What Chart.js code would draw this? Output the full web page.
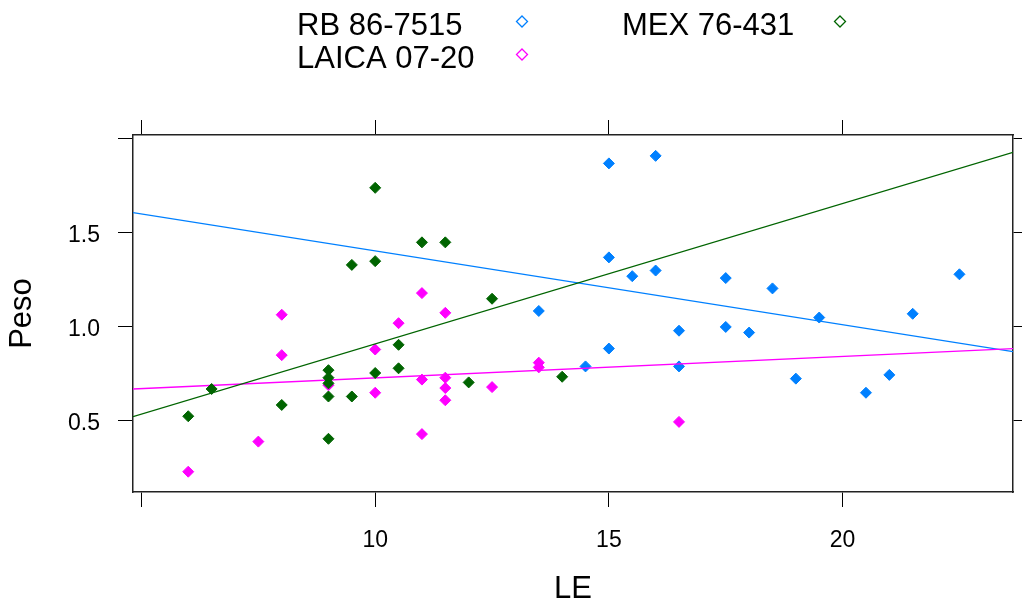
<!DOCTYPE html>
<html>
<head>
<meta charset="utf-8">
<script src="https://cdn.jsdelivr.net/npm/chart.js@4"></script>
<style>
  html, body { margin: 0; padding: 0; background: #fff; }
  #wrap { width: 1022px; height: 608px; }
</style>
</head>
<body>
<div id="wrap"><canvas id="chart" width="1022" height="608"></canvas></div>
<script>
// Peso vs LE, three varieties with linear fits

const seriesNames = ['RB 86-7515', 'LAICA 07-20', 'MEX 76-431'];
const seriesColors = ['#0080ff', '#ff00ff', '#006400'];

const rbX = [13.5, 14.5, 15, 15, 15, 15.5, 16, 16, 16.5, 16.5, 17.5, 17.5, 18, 18.5, 19, 19.5, 20.5, 21, 21.5, 22.5];
const rbY = [1.085, 0.79, 1.87, 1.37, 0.885, 1.27, 1.91, 1.30, 0.98, 0.79, 1.26, 1.00, 0.97, 1.205, 0.725, 1.05, 0.65, 0.745, 1.07, 1.28];

const laicaX = [6, 7.5, 8, 8, 9, 10, 10, 10.5, 11, 11, 11, 11.5, 11.5, 11.5, 11.5, 12.5, 13.5, 13.5, 16.5];
const laicaY = [0.23, 0.39, 1.065, 0.85, 0.69, 0.88, 0.65, 1.02, 1.18, 0.72, 0.43, 1.075, 0.73, 0.675, 0.61, 0.68, 0.81, 0.785, 0.495];

const mexX = [6, 6.5, 8, 9, 9, 9, 9, 9, 9.5, 9.5, 10, 10, 10, 10.5, 10.5, 11, 11.5, 12, 12.5, 14];
const mexY = [0.525, 0.67, 0.585, 0.77, 0.73, 0.70, 0.63, 0.405, 1.33, 0.63, 1.74, 1.35, 0.755, 0.905, 0.78, 1.45, 1.45, 0.705, 1.15, 0.735];

// fitted lines, value at left and right edge of the panel
const fitX = [4.818, 23.646];
const rbFit = [1.608, 0.869];
const laicaFit = [0.670, 0.885];
const mexFit = [0.523, 1.929];

const xTicks = [5, 10, 15, 20];
const yTicks = [0.5, 1.0, 1.5, 2.0];
const xRange = [4.818, 23.646];
const yRange = [0.122, 2.021];

const FONT = "'Liberation Sans', Arial, sans-serif";

function pts(xs, ys) {
    return xs.map((x, i) => ({ x: x, y: ys[i] }));
}

function pointSet(i, xs, ys) {
    return {
        type: 'scatter',
        label: seriesNames[i],
        data: pts(xs, ys),
        pointStyle: 'rectRot',
        pointRadius: 5.5,
        pointBorderWidth: 1,
        backgroundColor: seriesColors[i],
        borderColor: seriesColors[i]
    };
}

function fitSet(i, ys) {
    return {
        type: 'line',
        label: seriesNames[i] + ' fit',
        data: pts(fitX, ys),
        borderColor: seriesColors[i],
        borderWidth: 1.3,
        pointRadius: 0,
        fill: false,
        tension: 0
    };
}

// lattice style key: text first, open diamond after it
const keyPlugin = {
    id: 'latticeKey',
    afterDraw(chart) {
        const ctx = chart.ctx;
        const cols = [
            { text: 297, sym: 522 },
            { text: 297, sym: 522 },
            { text: 622, sym: 840 }
        ];
        const rows = [35, 68, 35];
        ctx.save();
        ctx.font = '31px ' + FONT;
        ctx.fillStyle = '#000';
        ctx.textBaseline = 'alphabetic';
        ctx.textAlign = 'left';
        seriesNames.forEach((name, i) => {
            ctx.fillText(name, cols[i].text, rows[i]);
            const cx = cols[i].sym, cy = rows[i] - 13.5, r = 5.5;
            ctx.beginPath();
            ctx.moveTo(cx, cy - r);
            ctx.lineTo(cx + r, cy);
            ctx.lineTo(cx, cy + r);
            ctx.lineTo(cx - r, cy);
            ctx.closePath();
            ctx.strokeStyle = seriesColors[i];
            ctx.lineWidth = 1.3;
            ctx.stroke();
        });
        ctx.restore();
    }
};

function setTicks(list) {
    return scale => { scale.ticks = list.map(v => ({ value: v })); };
}

const gridOpts = {
    drawOnChartArea: false,
    drawTicks: true,
    tickLength: 15,
    color: '#000',
    lineWidth: 1
};
const borderOpts = { display: true, color: '#222', width: 1.5 };

new Chart(document.getElementById('chart'), {
    data: {
        datasets: [
            fitSet(2, mexFit),
            pointSet(2, mexX, mexY),
            fitSet(1, laicaFit),
            pointSet(1, laicaX, laicaY),
            fitSet(0, rbFit),
            pointSet(0, rbX, rbY)
        ]
    },
    options: {
        responsive: false,
        animation: false,
        events: [],
        layout: { padding: 0 },
        plugins: {
            legend: { display: false },
            tooltip: { enabled: false }
        },
        scales: {
            x: {
                type: 'linear',
                position: 'bottom',
                min: xRange[0],
                max: xRange[1],
                afterBuildTicks: setTicks(xTicks),
                afterFit: s => { s.height = 116; },
                grid: gridOpts,
                border: borderOpts,
                ticks: {
                    autoSkip: false,
                    maxRotation: 0,
                    padding: 20,
                    color: '#000',
                    font: { family: FONT, size: 23 },
                    callback: v => (v === 5 ? '' : String(v))
                },
                title: {
                    display: true,
                    text: 'LE',
                    color: '#000',
                    font: { family: FONT, size: 31 },
                    padding: { top: 0, bottom: 0 }
                }
            },
            x2: {
                type: 'linear',
                position: 'top',
                min: xRange[0],
                max: xRange[1],
                afterBuildTicks: setTicks(xTicks),
                afterFit: s => { s.height = 135; },
                grid: gridOpts,
                border: borderOpts,
                ticks: { display: false }
            },
            y: {
                type: 'linear',
                position: 'left',
                min: yRange[0],
                max: yRange[1],
                afterBuildTicks: setTicks(yTicks),
                afterFit: s => { s.width = 133; },
                grid: gridOpts,
                border: borderOpts,
                ticks: {
                    autoSkip: false,
                    padding: 18,
                    labelOffset: 3,
                    color: '#000',
                    font: { family: FONT, size: 23 },
                    callback: v => (v === 2 ? '' : v.toFixed(1))
                },
                title: {
                    display: true,
                    text: 'Peso',
                    color: '#000',
                    font: { family: FONT, size: 31 },
                    padding: { top: 4, bottom: 0 }
                }
            },
            y2: {
                type: 'linear',
                position: 'right',
                min: yRange[0],
                max: yRange[1],
                afterBuildTicks: setTicks(yTicks),
                afterFit: s => { s.width = 9; },
                grid: gridOpts,
                border: borderOpts,
                ticks: { display: false }
            }
        }
    },
    plugins: [keyPlugin]
});
</script>
</body>
</html>
